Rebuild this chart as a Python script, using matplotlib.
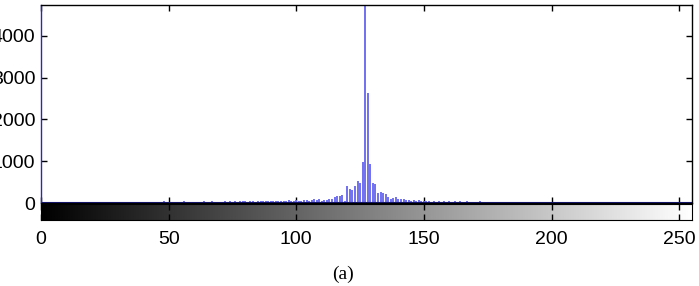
import matplotlib
matplotlib.use("Agg")
import matplotlib.pyplot as plt
import numpy as np

# gray-level histogram counts, bins 0..255
counts = [
    5200, 12, 18, 9, 15, 22, 11, 17, 25, 14,
    19, 28, 13, 21, 16, 30, 24, 12, 27, 18,
    22, 15, 31, 19, 26, 14, 23, 29, 17, 25,
    20, 33, 18, 27, 22, 16, 30, 24, 19, 28,
    23, 35, 21, 17, 32, 26, 20, 29, 38, 24,
    27, 19, 33, 25, 30, 22, 36, 28, 24, 31,
    26, 34, 29, 21, 37, 30, 25, 40, 32, 28,
    35, 27, 42, 31, 38, 29, 44, 33, 39, 36,
    41, 34, 47, 38, 30, 45, 52, 40, 36, 49,
    43, 55, 38, 50, 46, 58, 42, 61, 53, 47,
    66, 49, 58, 71, 62, 54, 78, 85, 69, 92,
    55, 70, 60, 95, 85, 140, 160, 175, 200, 45,
    415, 340, 310, 400, 525, 490, 980, 5600, 2630, 930,
    470, 450, 250, 270, 250, 210, 150, 100, 110, 150,
    100, 85, 90, 70, 65, 55, 70, 50, 60, 45,
    55, 38, 42, 30, 46, 35, 40, 28, 44, 33,
    37, 29, 41, 26, 36, 31, 24, 39, 27, 34,
    22, 30, 36, 25, 33, 28, 21, 35, 26, 31,
    24, 29, 20, 33, 23, 27, 19, 31, 22, 26,
    18, 28, 21, 25, 17, 30, 20, 24, 16, 27,
    19, 23, 15, 26, 18, 22, 14, 25, 17, 21,
    13, 24, 16, 20, 12, 23, 15, 19, 11, 22,
    14, 18, 10, 21, 13, 17, 9, 20, 12, 16,
    8, 19, 11, 15, 7, 18, 10, 14, 6, 17,
    9, 13, 5, 16, 8, 12, 4, 15, 7, 11,
    6, 10, 5, 9, 4, 8,
]
xticks = [0, 50, 100, 150, 200, 250]
yticks = [0, 1000, 2000, 3000, 4000]
ymax = 4740

plt.rcParams["font.family"] = ["Liberation Sans", "DejaVu Sans"]

fig = plt.figure(figsize=(6.99, 2.86), dpi=100)
ax = fig.add_axes([41 / 699, 1 - 203 / 286, 651 / 699, 198 / 286])
cb = fig.add_axes([41 / 699, 1 - 220 / 286, 651 / 699, 16 / 286])

levels = np.arange(len(counts))
ax.vlines(levels, 0, counts, color="#7070f0", linewidth=1.4)
ax.axhline(0, color="#1a1a80", linewidth=1.5)
ax.set_xlim(0, 255)
ax.set_ylim(0, ymax)
ax.set_xticks(xticks)
ax.set_xticklabels([])
ax.set_yticks(yticks)
ax.tick_params(direction="in", length=4, width=1, top=True, right=True,
               labelsize=14, pad=4)
for s in ax.spines.values():
    s.set_linewidth(1.0)
ax.spines["left"].set_color("#2a2ab0")

grad = np.arange(256).reshape(1, -1)
cb.imshow(grad, cmap="gray", aspect="auto", extent=(0, 255, 0, 1),
          vmin=0, vmax=255)
cb.set_xlim(0, 255)
cb.set_ylim(0, 1)
cb.set_xticks(xticks)
cb.set_yticks([])
cb.tick_params(direction="in", length=4, width=1, top=True,
               labelsize=14, pad=8)

fig.text(343 / 699, 1 - 274 / 286, "(a)", ha="center", va="center",
         family=["Liberation Serif"], fontsize=14)

fig.savefig("out.png", dpi=100)
